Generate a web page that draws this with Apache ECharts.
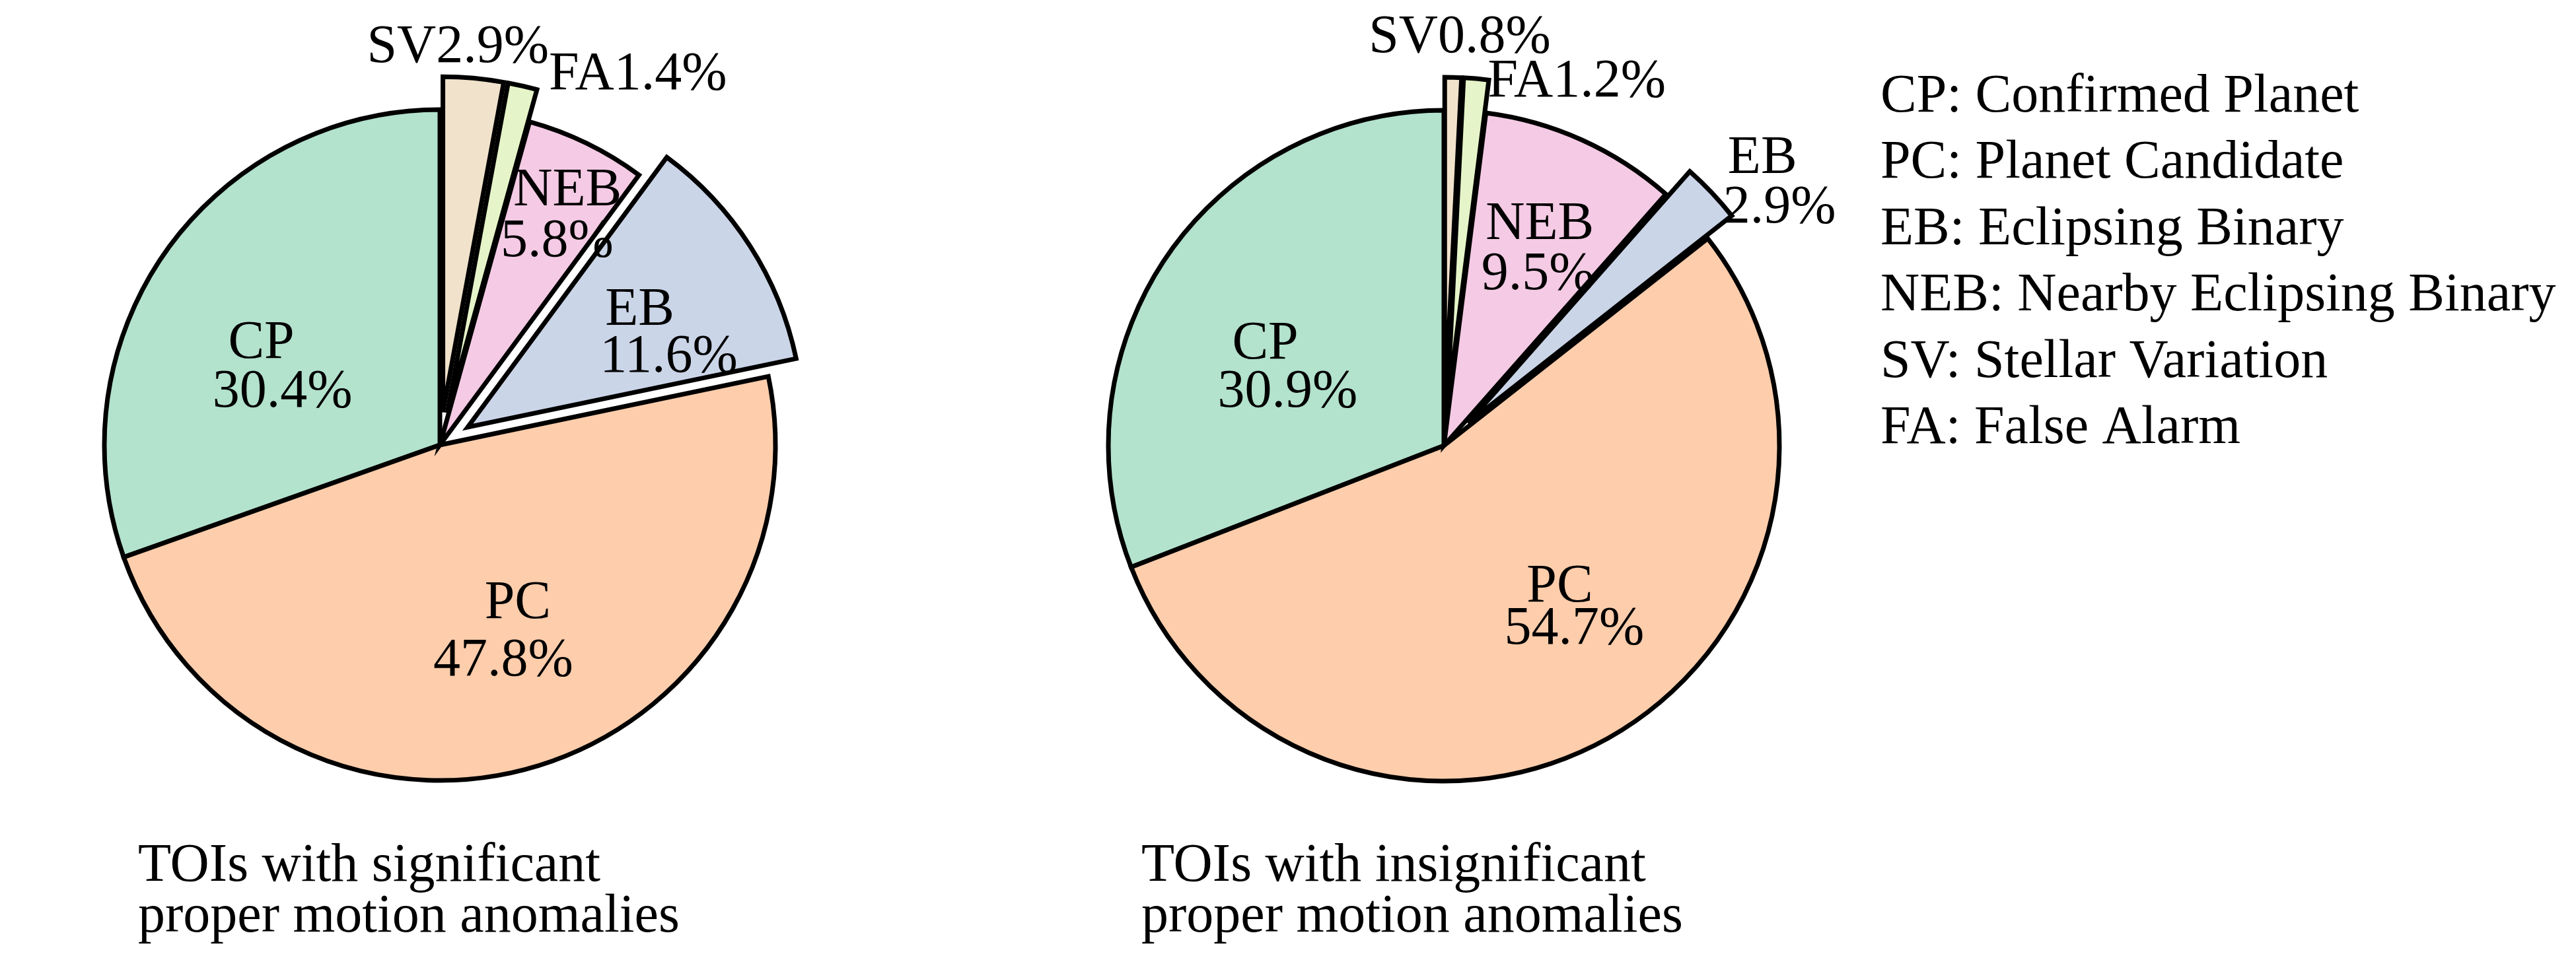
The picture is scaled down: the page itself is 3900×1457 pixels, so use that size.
<!DOCTYPE html>
<html>
<head>
<meta charset="utf-8">
<title>TOI dispositions</title>
<script src="https://cdn.jsdelivr.net/npm/echarts@6/dist/echarts.min.js"></script>
<style>
html, body { margin: 0; padding: 0; background: #fff; }
#main { width: 3900px; height: 1457px; }
</style>
</head>
<body>
<div id="main"></div>
<script>
// wedge order, counter-clockwise from 12 o'clock
const categories = ['CP', 'PC', 'EB', 'NEB', 'FA', 'SV']
const legendOrder = ['CP', 'PC', 'EB', 'NEB', 'SV', 'FA']
const fullNames = {
  CP: 'Confirmed Planet',
  PC: 'Planet Candidate',
  EB: 'Eclipsing Binary',
  NEB: 'Nearby Eclipsing Binary',
  SV: 'Stellar Variation',
  FA: 'False Alarm'
}
const significantPct = [30.4, 47.8, 11.6, 5.8, 1.4, 2.9]
const insignificantPct = [30.9, 54.7, 2.9, 9.5, 1.2, 0.8]
const exploded = ['EB', 'FA', 'SV']
const titles = [
  'TOIs with significant\nproper motion anomalies',
  'TOIs with insignificant\nproper motion anomalies'
]

const colors = {
  CP: '#b3e2cd', PC: '#fdcdac', EB: '#cbd5e8', NEB: '#f4cae4', FA: '#e6f5c9', SV: '#f1e2cc'
}
const FONT = '"Liberation Serif", "DejaVu Serif", serif'
const FS = 82
const R = 508
const EXPLODE = 50

// label line centres, relative to the pie centre: [name line, pct line] or one joined line
const spotsLeft = {
  CP: [[-268, -152], [-236, -78]],
  PC: [[117, 238], [95, 325]],
  EB: [[300, -202], [344, -131]],
  NEB: [[192, -382], [176, -305]],
  FA: [[299, -558]],
  SV: [[27, -599]]
}
const spotsRight = {
  CP: [[-268, -152], [-234, -79]],
  PC: [[174, 212], [196, 276]],
  EB: [[480, -432], [506, -357]],
  NEB: [[144, -332], [141, -256]],
  FA: [[201, -548]],
  SV: [[24, -615]]
}

function midAngles (values) {
  const total = values.reduce((a, b) => a + b, 0)
  let acc = 0
  return values.map(v => {
    const a = 90 + (acc + v / 2) / total * 360
    acc += v
    return a * Math.PI / 180
  })
}

function buildData (values, spots) {
  return categories.map((name, i) => {
    const spot = spots[name]
    const pct = values[i].toFixed(1) + '%'
    let label
    if (spot.length === 1) {
      label = { formatter: name + pct }
    } else {
      const [n, p] = spot
      const shift = (n[0] - p[0]) / 2
      const lh = p[1] - n[1]
      label = {
        formatter: '{n|' + name + '}\n{p|' + pct + '}',
        lineHeight: lh,
        rich: {
          n: { fontFamily: FONT, fontSize: FS, color: '#000', lineHeight: lh,
            padding: shift > 0 ? [0, 0, 0, 2 * shift] : [0, -2 * shift, 0, 0] },
          p: { fontFamily: FONT, fontSize: FS, color: '#000', lineHeight: lh,
            padding: shift > 0 ? [0, 2 * shift, 0, 0] : [0, 0, 0, -2 * shift] }
        }
      }
    }
    return {
      name,
      value: values[i],
      selected: exploded.includes(name),
      itemStyle: { color: colors[name] },
      label
    }
  })
}

function pieSeries (values, spots, center) {
  const mids = midAngles(values)
  return {
    type: 'pie',
    center,
    radius: R,
    startAngle: 90,
    clockwise: false,
    selectedMode: 'multiple',
    selectedOffset: EXPLODE,
    avoidLabelOverlap: false,
    animation: false,
    itemStyle: { borderColor: '#000', borderWidth: 7, borderJoin: 'miter' },
    label: {
      show: true,
      position: 'inside',
      color: '#000',
      fontFamily: FONT,
      fontSize: FS
    },
    labelLine: { show: false },
    emphasis: { disabled: true },
    // move each label from its default inside spot to where the reference has it
    labelLayout (params) {
      const i = params.dataIndex
      const name = categories[i]
      const spot = spots[name]
      const tx = spot.reduce((s, d) => s + d[0], 0) / spot.length
      const ty = spot.reduce((s, d) => s + d[1], 0) / spot.length
      const rr = R / 2 + (exploded.includes(name) ? EXPLODE : 0)
      const dx0 = rr * Math.cos(mids[i])
      const dy0 = -rr * Math.sin(mids[i])
      return { dx: tx - dx0, dy: ty - dy0 }
    },
    data: buildData(values, spots)
  }
}

const chart = echarts.init(document.getElementById('main'), null, { renderer: 'canvas' })
chart.setOption({
  backgroundColor: '#fff',
  animation: false,
  title: [
    {
      text: titles[0], left: 204, top: 1269,
      textStyle: { fontFamily: FONT, fontSize: FS, fontWeight: 'normal', color: '#000', lineHeight: 77 }
    },
    {
      text: titles[1], left: 1723, top: 1269,
      textStyle: { fontFamily: FONT, fontSize: FS, fontWeight: 'normal', color: '#000', lineHeight: 77 }
    }
  ],
  legend: {
    data: legendOrder,
    orient: 'vertical',
    left: 2836,
    top: 92,
    itemWidth: 0,
    itemHeight: 0,
    itemGap: 0,
    selectedMode: false,
    formatter: name => name + ': ' + fullNames[name],
    textStyle: { fontFamily: FONT, fontSize: FS, color: '#000', lineHeight: 100.5 }
  },
  series: [
    pieSeries(significantPct, spotsLeft, [666, 674]),
    pieSeries(insignificantPct, spotsRight, [2186, 675])
  ]
})
</script>
</body>
</html>
